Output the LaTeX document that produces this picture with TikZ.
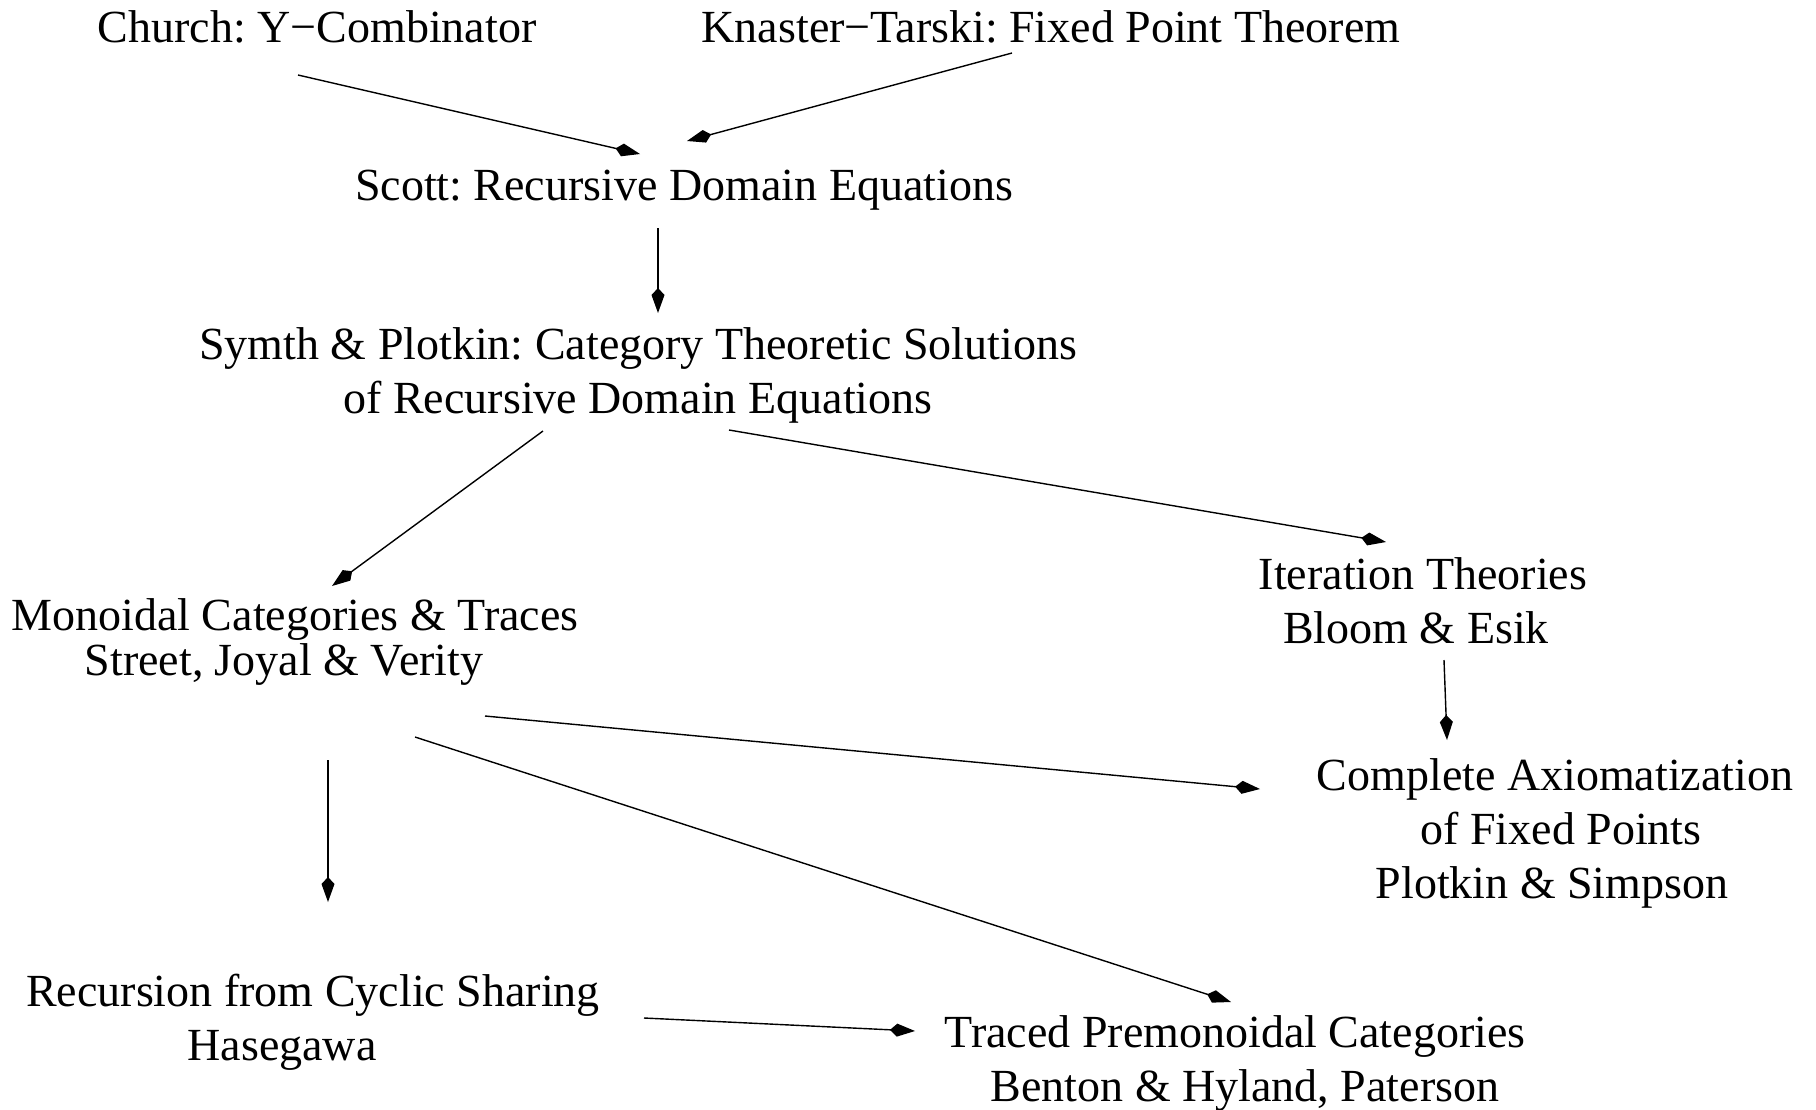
\documentclass[tikz,border=0pt]{standalone}
\usepackage{fontspec}
\setmainfont{Liberation Serif}
\usetikzlibrary{arrows.meta,calc}
\frenchspacing
\begin{document}
\begin{tikzpicture}[x=0.5pt,y=-0.5pt,
  topic/.style={inner sep=0pt,align=center,font=\fontsize{23pt}{27pt}\selectfont},
  link/.style={line width=0.7pt,-{Kite[length=12.5pt,width=6.5pt,inset=3.5pt]}}]
\useasboundingbox (0,0) rectangle (1816,1109);

% topics
\node[topic] (church)  at (317,27)   {Church: Y−Combinator};
\node[topic] (knaster) at (1051,27)  {Knaster−Tarski: Fixed Point Theorem};
\node[topic] (scott)   at (684,190)  {Scott: Recursive Domain Equations};
\node[topic] (smyth)   at (638,375)  {Symth \& Plotkin: Category Theoretic Solutions\\of Recursive Domain Equations};
\node[topic] (mono)    at (295,642)  {Monoidal Categories \& Traces\\[-4.5pt]Street, Joyal \& Verity\hspace*{11pt}};
\node[topic] (iter)    at (1423,601) {Iteration Theories\\Bloom \& Esik\hspace*{7pt}};
\node[topic] (axiom)   at (1555,833) {Complete Axiomatization\\\hspace*{6pt}of Fixed Points\\Plotkin \& Simpson\hspace*{3pt}};
\node[topic] (cyclic)  at (313,1022) {Recursion from Cyclic Sharing\\Hasegawa\hspace*{31pt}};
\node[topic] (traced)  at (1235,1063) {Traced Premonoidal Categories\\\hspace*{10pt}Benton \& Hyland, Paterson};

% influences
\draw[link] ($(church)+(-19,48)$)  -- ($(scott)+(-44,-36)$);
\draw[link] ($(knaster)+(-39,26)$) -- ($(scott)+(3,-49)$);
\draw[link] ($(scott)+(-26,38)$)   -- ($(smyth)+(20,-62)$);
\draw[link] ($(smyth)+(-95,56)$)   -- ($(mono)+(37,-56)$);
\draw[link] ($(smyth)+(91,55)$)    -- ($(iter)+(-37,-59)$);
\draw[link] ($(iter)+(21,59)$)     -- ($(axiom)+(-108,-93)$);
\draw[link] ($(mono)+(190,74)$)    -- ($(axiom)+(-295,-44)$);
\draw[link] ($(mono)+(120,95)$)    -- ($(traced)+(-4,-61)$);
\draw[link] ($(mono)+(33,118)$)    -- ($(cyclic)+(15,-120)$);
\draw[link] ($(cyclic)+(331,-4)$)  -- ($(traced)+(-320,-32)$);
\end{tikzpicture}
\end{document}
